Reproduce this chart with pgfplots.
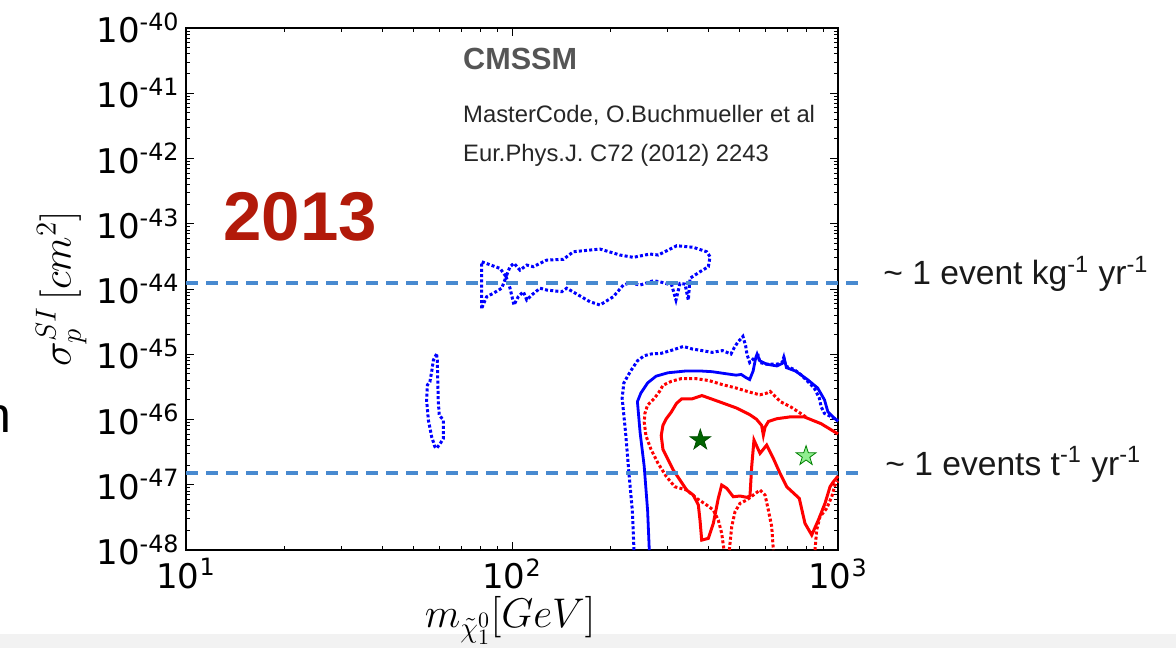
\documentclass[border=0pt]{standalone}
\usepackage{pgfplots}
\pgfplotsset{compat=1.18}
\usepackage{fontspec}
\setmainfont{Liberation Sans}
\newfontfamily\tickfont{DejaVu Sans}
\definecolor{dashblue}{RGB}{72,138,208}
\definecolor{yearred}{RGB}{178,26,10}
\definecolor{dkgreen}{RGB}{0,100,0}
\definecolor{ltgreen}{RGB}{144,238,144}
\definecolor{bandgray}{RGB}{242,242,242}
\definecolor{cmgray}{RGB}{85,85,85}
\pgfdeclareplotmark{fstar}{%
  \pgfpathmoveto{\pgfpointpolar{90}{\pgfplotmarksize}}%
  \pgfpathlineto{\pgfpointpolar{126}{0.382*\pgfplotmarksize}}%
  \pgfpathlineto{\pgfpointpolar{162}{\pgfplotmarksize}}%
  \pgfpathlineto{\pgfpointpolar{198}{0.382*\pgfplotmarksize}}%
  \pgfpathlineto{\pgfpointpolar{234}{\pgfplotmarksize}}%
  \pgfpathlineto{\pgfpointpolar{270}{0.382*\pgfplotmarksize}}%
  \pgfpathlineto{\pgfpointpolar{306}{\pgfplotmarksize}}%
  \pgfpathlineto{\pgfpointpolar{342}{0.382*\pgfplotmarksize}}%
  \pgfpathlineto{\pgfpointpolar{18}{\pgfplotmarksize}}%
  \pgfpathlineto{\pgfpointpolar{54}{0.382*\pgfplotmarksize}}%
  \pgfpathclose
  \pgfusepathqfillstroke
}
\begin{document}
\begin{tikzpicture}
\useasboundingbox (0,0) rectangle (588pt,324pt);
\fill[bandgray] (0,0) rectangle (588pt,7pt);
\node[anchor=base east, inner sep=0pt, font=\fontsize{25}{25}\selectfont] at (6pt,108pt) {n};
\begin{axis}[
  at={(93pt,49pt)}, anchor=south west,
  scale only axis, width=326pt, height=261pt,
  xmode=log, ymode=log,
  xmin=10, xmax=1000, ymin=1e-48, ymax=1e-40,
  clip=false,
  axis line style={line width=0.6pt, black},
  tick align=inside,
  major tick length=4pt, minor tick length=2pt,
  every tick/.style={black, line width=0.5pt},
  xtick={10,100,1000},
  xticklabels={{10\textsuperscript{1}},{10\textsuperscript{2}},{10\textsuperscript{3}}},
  minor xtick={20,30,40,50,60,70,80,90,200,300,400,500,600,700,800,900},
  ytick={1e-48,1e-47,1e-46,1e-45,1e-44,1e-43,1e-42,1e-41,1e-40},
  yticklabels={{10\textsuperscript{-48}},{10\textsuperscript{-47}},{10\textsuperscript{-46}},{10\textsuperscript{-45}},{10\textsuperscript{-44}},{10\textsuperscript{-43}},{10\textsuperscript{-42}},{10\textsuperscript{-41}},{10\textsuperscript{-40}}},
  minor ytick={2e-48,3e-48,4e-48,5e-48,6e-48,7e-48,8e-48,9e-48,
               2e-47,3e-47,4e-47,5e-47,6e-47,7e-47,8e-47,9e-47,
               2e-46,3e-46,4e-46,5e-46,6e-46,7e-46,8e-46,9e-46,
               2e-45,3e-45,4e-45,5e-45,6e-45,7e-45,8e-45,9e-45,
               2e-44,3e-44,4e-44,5e-44,6e-44,7e-44,8e-44,9e-44,
               2e-43,3e-43,4e-43,5e-43,6e-43,7e-43,8e-43,9e-43,
               2e-42,3e-42,4e-42,5e-42,6e-42,7e-42,8e-42,9e-42,
               2e-41,3e-41,4e-41,5e-41,6e-41,7e-41,8e-41,9e-41},
  xticklabel style={font=\tickfont\fontsize{17}{17}\selectfont, inner sep=0pt, yshift=-4pt},
  yticklabel style={font=\tickfont\fontsize{17}{17}\selectfont, inner sep=0pt, xshift=-3pt},
  xlabel={$m_{\tilde{\chi}_1^0}[GeV]$},
  ylabel={$\sigma_p^{SI}\,[cm^2]$},
  xlabel style={at={(axis description cs:0.497,-0.149)}, anchor=base, inner sep=0pt, font=\fontsize{22.2}{22.2}\selectfont},
  ylabel style={at={(axis description cs:-0.177,0.5)}, anchor=base, inner sep=0pt, font=\fontsize{22}{22}\selectfont},
]
% blue dotted: upper island
\addplot[blue, line width=1.5pt, dash pattern=on 1.5pt off 1.1pt] coordinates {
(80.7,5.06e-45) (80.7,2.62e-44) (91.9,2.07e-44) (95.9,1.545e-44) (98.6,2.20e-44) (101.4,2.48e-44) (105.8,1.95e-44) (111.0,2.33e-44) (116.2,2.20e-44) (127.8,2.78e-44) (143.7,2.85e-44) (154.2,3.73e-44) (186.2,4.10e-44) (214.5,3.32e-44) (235.6,3.06e-44) (265.0,3.44e-44) (281.0,3.32e-44) (320.1,4.61e-44) (359.8,4.36e-44) (395.6,3.73e-44) (405.0,3.13e-44) (400.2,2.20e-44) (377.3,1.84e-44) (351.6,1.46e-44) (347.4,6.78e-45) (339.4,1.19e-44) (327.6,1.22e-44) (318.4,6.78e-45) (309.0,1.15e-44) (284.4,1.29e-44) (271.3,1.34e-44) (246.9,1.15e-44) (230.1,1.25e-44) (219.5,1.15e-44) (204.5,7.62e-45) (186.2,5.69e-45) (173.5,6.38e-45) (147.2,1.03e-44) (142.1,9.10e-45) (127.8,9.66e-45) (121.9,1.03e-44) (114.9,8.09e-45) (111.0,6.78e-45) (108.3,9.10e-45) (104.5,7.62e-45) (101.4,5.69e-45) (98.6,1.03e-44) (95.9,1.545e-44) (93.0,1.03e-44) (87.6,8.59e-45) (83.6,7.62e-45) (80.7,5.06e-45)
};
% blue dotted: small island near 58 GeV
\addplot[blue, line width=1.5pt, dash pattern=on 1.5pt off 1.1pt] coordinates {
(58.7,1.01e-45) (57.4,8.17e-46) (56.7,5.41e-46) (56.0,3.79e-46) (55.0,3.38e-46) (54.7,1.99e-46) (55.4,9.8e-47) (56.7,5.44e-47) (58.0,3.83e-47) (58.7,3.62e-47) (60.1,4.21e-47) (61.6,5.15e-47) (61.6,9.8e-47) (59.8,1.17e-46) (59.4,1.99e-46) (59.2,4.03e-46) (59.0,8.17e-46) (58.7,1.01e-45)
};
% blue dotted: main region
\addplot[blue, line width=1.5pt, dash pattern=on 1.5pt off 1.1pt] coordinates {
(236.7,1e-48) (233.9,4.03e-48) (228.4,1.51e-47) (223.0,6.38e-47) (217.7,2.12e-46) (220.3,3.64e-46) (231.1,5.53e-46) (242.5,7.94e-46) (254.4,9.51e-46) (266.9,1.01e-45) (286.9,1.035e-45) (312.0,1.17e-45) (335.4,1.32e-45) (356.1,1.21e-45) (382.6,1.14e-45) (411.3,1.07e-45) (442.0,1.14e-45) (469.7,1.01e-45) (481.1,1.28e-45) (492.7,1.53e-45) (510.9,1.88e-45) (520.7,1.36e-45) (525.5,1.01e-45) (535.9,7.48e-46) (555.6,8.95e-46) (569.1,9.51e-46) (575.9,7.48e-46) (604.3,7.05e-46) (649.5,7.05e-46) (673.3,7.48e-46) (681.4,8.95e-46) (689.8,6.62e-46) (732.2,5.87e-46) (768.3,4.91e-46) (806.0,3.86e-46) (845.8,3.04e-46) (876.8,2.12e-46) (887.6,1.57e-46) (909.1,1.24e-46) (953.7,1.10e-46) (1000,9.73e-47)
};
% blue solid
\addplot[blue, line width=1.4pt] coordinates {
(263.7,1e-48) (260.6,4.03e-48) (254.4,1.92e-47) (247.1,6.38e-47) (242.5,1.88e-46) (248.4,2.54e-46) (260.6,3.64e-46) (276.7,4.62e-46) (300.9,5.21e-46) (339.4,5.53e-46) (382.6,5.53e-46) (411.3,5.41e-46) (453.1,5.04e-46) (486.9,4.79e-46) (504.8,4.91e-46) (523.3,4.36e-46) (535.9,4.10e-46) (549.0,5.53e-46) (559.6,8.95e-46) (564.7,1.01e-45) (575.9,7.94e-46) (604.3,7.05e-46) (649.5,6.62e-46) (673.3,7.21e-46) (684.8,8.43e-46) (694.6,6.24e-46) (741.3,5.53e-46) (806.0,4.10e-46) (866.5,3.04e-46) (909.1,2.0e-46) (931.1,1.31e-46) (965.4,1.10e-46) (1000,9.35e-47)
};
% red dotted pieces
\addplot[red, line width=1.5pt, dash pattern=on 1.5pt off 1.1pt] coordinates {
(796.4,1.10e-46) (768.3,1.24e-46) (715.0,1.57e-46) (665.3,1.88e-46) (619.0,2.70e-46) (604.3,2.54e-46) (575.9,2.39e-46) (535.9,2.63e-46) (486.9,3.04e-46) (442.0,3.43e-46) (401.6,3.96e-46) (364.8,4.25e-46) (331.3,4.25e-46) (308.3,3.86e-46) (290.4,3.34e-46) (283.5,2.70e-46) (273.5,2.12e-46) (260.6,1.67e-46) (255.7,1.24e-46) (254.4,9.16e-47) (257.5,5.66e-47) (266.9,3.49e-47) (280.1,2.16e-47) (297.4,1.34e-47) (315.8,9.33e-48) (343.5,8.32e-48) (368.7,6.19e-48) (395.6,4.90e-48) (414.5,4.10e-48) (429.3,2.88e-48) (439.8,1.80e-48) (447.0,1e-48)
};
\addplot[red, line width=1.5pt, dash pattern=on 1.5pt off 1.1pt] coordinates {
(464.1,1e-48) (472.0,2.28e-48) (483.1,3.86e-48) (500.5,5.20e-48) (524.8,5.83e-48) (549.8,6.97e-48) (576.5,8.32e-48) (597.3,6.97e-48) (611.4,4.10e-48) (626.2,2.28e-48) (633.3,1e-48)
};
\addplot[red, line width=1.5pt, dash pattern=on 1.5pt off 1.1pt] coordinates {
(850.0,1e-48) (860.2,2.03e-48) (880.6,3.24e-48) (923.3,4.36e-48) (956.5,6.56e-48) (979.0,9.91e-48) (1000,1.14e-47)
};
% red solid
\addplot[red, line width=1.5pt] coordinates {
(1000,6.01e-47) (887.6,8.63e-47) (787.0,1.10e-46) (715.0,1.10e-46) (649.5,1.03e-46) (611.8,9.35e-47) (597.3,7.64e-47) (590.2,5.78e-47) (583.1,8.13e-47) (562.3,1.01e-46) (535.9,1.19e-46) (486.9,1.51e-46) (431.5,1.88e-46) (382.6,2.33e-46) (356.1,2.07e-46) (331.3,2.07e-46) (319.6,1.77e-46) (308.3,1.31e-46) (297.4,1.03e-46) (290.4,8.13e-47) (286.9,5.66e-47) (290.4,3.49e-47) (300.9,2.44e-47) (312.0,1.70e-47) (327.3,1.19e-47) (343.5,8.28e-48) (359.8,6.97e-48) (372.9,4.90e-48) (377.3,2.88e-48) (381.9,1.42e-48) (400.2,1.51e-48) (414.5,2.56e-48) (429.3,6.19e-48) (439.8,9.91e-48) (455.7,8.83e-48) (477.3,6.56e-48) (500.5,6.73e-48) (524.8,6.43e-48) (537.0,6.73e-48) (543.5,1.89e-47) (552.4,4.85e-47) (576.5,3.03e-47) (604.3,4.06e-47) (633.3,2.54e-47) (663.9,1.50e-47) (696.1,9.33e-48) (760.7,6.19e-48) (792.1,2.56e-48) (830.5,1.70e-48) (870.3,2.88e-48) (912.4,5.20e-48) (945.2,9.33e-48) (967.4,1.11e-47) (1000,1.36e-47)
};
% event-rate lines
\addplot[dashblue, line width=2.1pt, dash pattern=on 6pt off 4pt] coordinates {(10,1.25e-44) (1183,1.25e-44)};
\addplot[dashblue, line width=2.1pt, dash pattern=on 6pt off 4pt] coordinates {(10,1.5e-47) (1183,1.5e-47)};
% best-fit points
\addplot[only marks, mark=fstar, mark size=5.4pt, mark options={fill=dkgreen, draw=dkgreen!80!black, line width=0.4pt}] coordinates {(378.1,4.85e-47)};
\addplot[only marks, mark=fstar, mark size=5.2pt, mark options={fill=ltgreen, draw=green!50!black, line width=0.4pt}] coordinates {(798.1,2.76e-47)};
\end{axis}
\node[anchor=base west, inner sep=0pt, font=\bfseries\fontsize{34.5}{34.5}\selectfont, text=yearred] at (111.5pt,203.5pt) {2013};
\node[anchor=base west, inner sep=0pt, font=\bfseries\fontsize{15.3}{15.3}\selectfont, text=cmgray] at (231.4pt,289.2pt) {CMSSM};
\node[anchor=base west, inner sep=0pt, font=\fontsize{11.9}{11.9}\selectfont, text=black!85] at (231.4pt,262.7pt) {MasterCode, O.Buchmueller et al};
\node[anchor=base west, inner sep=0pt, font=\fontsize{11.9}{11.9}\selectfont, text=black!85] at (231.4pt,243pt) {Eur.Phys.J. C72 (2012) 2243};
\node[anchor=base west, inner sep=0pt, font=\fontsize{16.8}{16.8}\selectfont, text=black!90] at (441.5pt,181.5pt) {\textasciitilde\ 1 event kg\textsuperscript{-1} yr\textsuperscript{-1}};
\node[anchor=base west, inner sep=0pt, font=\fontsize{16.8}{16.8}\selectfont, text=black!90] at (442.5pt,86.5pt) {\textasciitilde\ 1 events t\textsuperscript{-1} yr\textsuperscript{-1}};
\end{tikzpicture}
\end{document}
